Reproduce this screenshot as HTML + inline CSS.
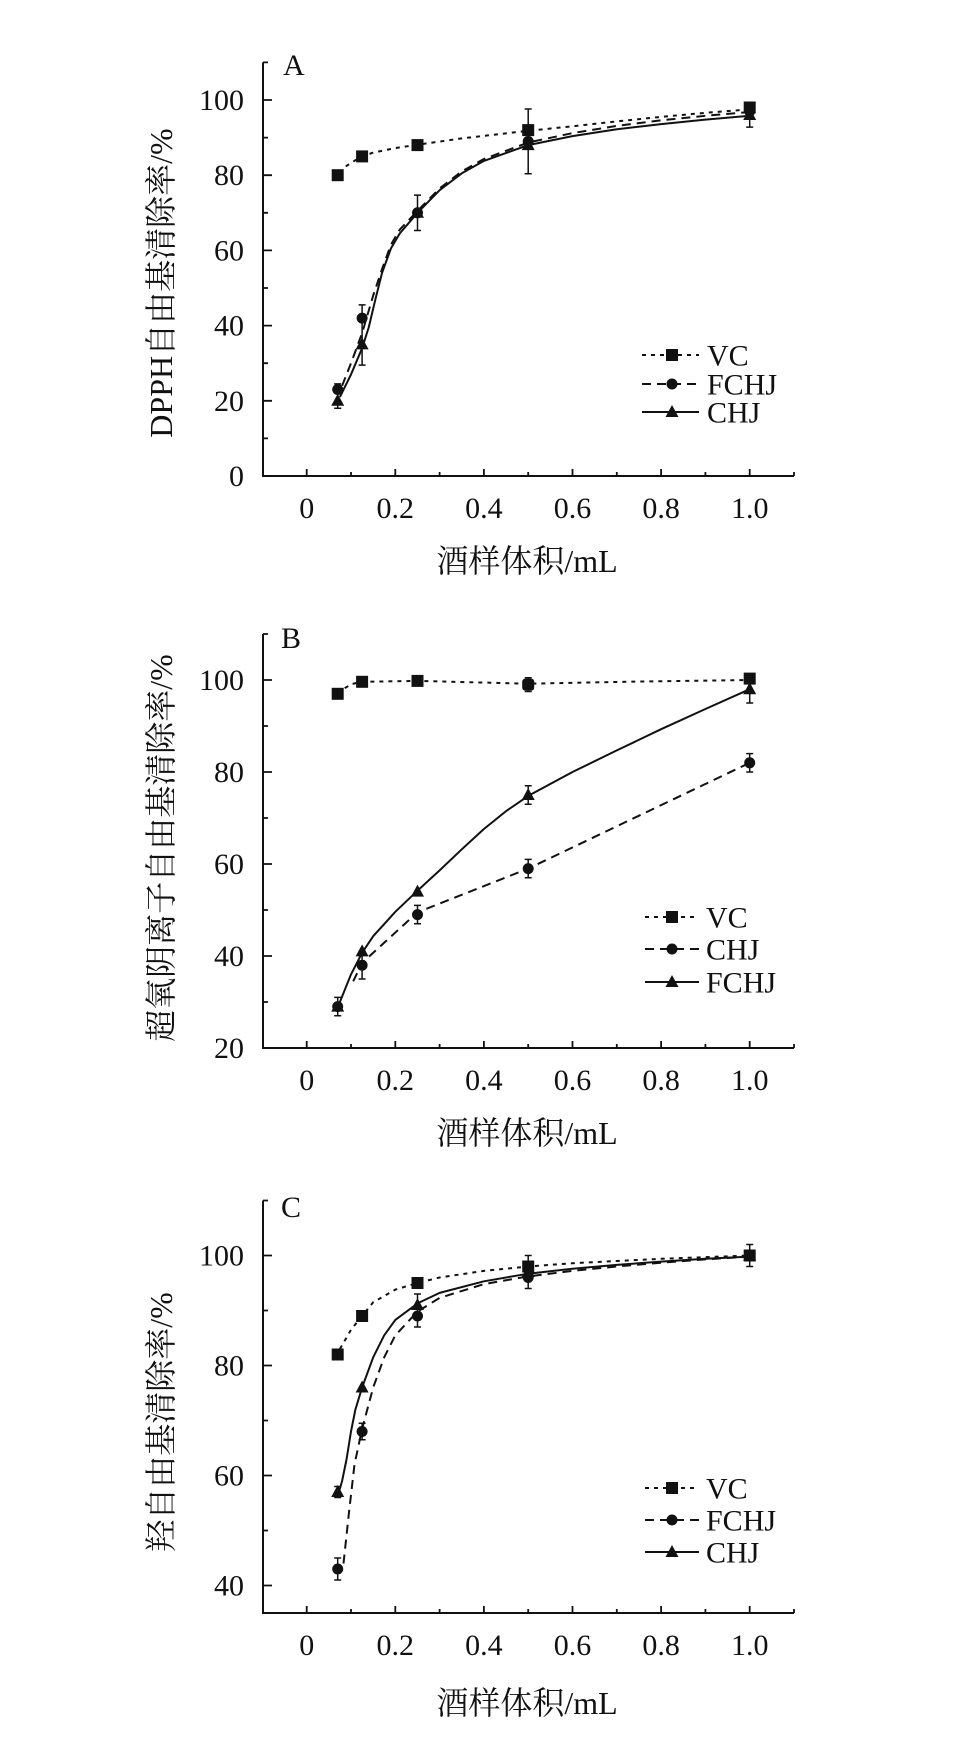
<!DOCTYPE html>
<html><head><meta charset="utf-8"><style>
html,body{margin:0;padding:0;background:#fff;}
svg{display:block;}
text{font-family:"Liberation Serif","Noto Serif CJK SC",serif;fill:#111;}
.ax{fill:none;stroke:#111;stroke-width:2;}
.tk{fill:none;stroke:#111;stroke-width:1.8;}
.s{fill:none;stroke:#111;stroke-width:2;stroke-linejoin:round;}
.vc{stroke-dasharray:4 5;}
.fd{stroke-dasharray:9 6;}
.eb{fill:none;stroke:#111;stroke-width:1.5;}
.m{fill:#111;}
.tl{font-size:30px;}
.tt{font-size:32px;}
</style></head><body>
<svg width="973" height="1754" viewBox="0 0 973 1754" xmlns="http://www.w3.org/2000/svg">
<rect width="973" height="1754" fill="#fff"/>

<!-- ================= PANEL A ================= -->
<g>
<path class="ax" d="M263,62.4 V476 H794"/>
<path class="tk" d="M263,476h9M263,438.4h5M263,400.8h9M263,363.2h5M263,325.6h9M263,288h5M263,250.4h9M263,212.8h5M263,175.2h9M263,137.6h5M263,100h9M263,62.4h5"/>
<path class="tk" d="M306.7,476v-7M351,476v-4M395.3,476v-7M439.6,476v-4M483.9,476v-7M528.2,476v-4M572.5,476v-7M616.8,476v-4M661.1,476v-7M705.4,476v-4M749.7,476v-7M794,476v-4"/>
<g class="tl" text-anchor="end">
<text x="244" y="486">0</text><text x="244" y="410.8">20</text><text x="244" y="335.6">40</text><text x="244" y="260.4">60</text><text x="244" y="185.2">80</text><text x="244" y="110">100</text>
</g>
<g class="tl" text-anchor="middle">
<text x="306.7" y="518">0</text><text x="395.3" y="518">0.2</text><text x="483.9" y="518">0.4</text><text x="572.5" y="518">0.6</text><text x="661.1" y="518">0.8</text><text x="749.7" y="518">1.0</text>
</g>
<text class="tt" x="527" y="572" text-anchor="middle">酒样体积/mL</text>
<text class="tt" transform="translate(161,283) rotate(-90)" text-anchor="middle" dominant-baseline="central">DPPH自由基清除率/%</text>
<text class="tl" x="283" y="75">A</text>

<polyline class="s vc" points="339.9,173.3 346.6,165.8 355.4,160.2 362.1,156.4 373.2,152.6 395.3,148.1 417.5,144.7 461.8,138.4 528.2,130.8 572.5,126.3 616.8,121.4 661.1,116.9 705.4,112.8 749.7,109.4"/>
<polyline class="s fd" points="342.1,385.8 351,363.2 362.1,333.1 373.2,295.5 382,269.2 390.9,244.8 399.7,229.7 417.5,210.9 439.6,188.4 461.8,171.4 483.9,159 528.2,142.5 572.5,133.1 616.8,125.9 661.1,120.3 705.4,115.8 749.7,112"/>
<polyline class="s" points="339.9,397 351,374.5 362.1,348.2 368.7,327.5 375.4,299.3 382,273 390.9,248.5 399.7,233.5 417.5,212.8 439.6,190.2 461.8,173.3 483.9,160.9 528.2,145.1 572.5,136.1 616.8,129.3 661.1,124.1 705.4,119.6 749.7,115.8"/>

<path class="eb" d="M337.7,408.3V383.9M334.2,408.3h7M334.2,383.9h7
M362.1,365.1V304.9M358.6,365.1h7M358.6,304.9h7
M417.5,230.5V195.1M414,230.5h7M414,195.1h7
M528.2,173.7V109M524.7,173.7h7M524.7,109h7
M749.7,127.1V105.6M746.2,127.1h7M746.2,105.6h7"/>

<g class="m">
<rect x="331.7" y="169.2" width="12" height="12"/><rect x="356.1" y="150.4" width="12" height="12"/><rect x="411.5" y="139.1" width="12" height="12"/><rect x="522.2" y="124.1" width="12" height="12"/><rect x="743.7" y="101.5" width="12" height="12"/>
<circle cx="337.7" cy="389.5" r="5.5"/><circle cx="362.1" cy="318.1" r="5.5"/><circle cx="417.5" cy="212.8" r="5.5"/><circle cx="528.2" cy="141.4" r="5.5"/><circle cx="749.7" cy="111.3" r="5.5"/>
<polygon points="337.7,393.8 331.2,405.8 344.2,405.8"/><polygon points="362.1,337.4 355.6,349.4 368.6,349.4"/><polygon points="417.5,205.8 411,217.8 424,217.8"/><polygon points="528.2,138.1 521.7,150.1 534.7,150.1"/><polygon points="749.7,108 743.2,120 756.2,120"/>
</g>

<!-- legend A -->
<line class="s vc" x1="642" y1="355" x2="699" y2="355"/>
<rect class="m" x="666" y="349" width="12" height="12"/>
<line class="s fd" x1="642" y1="384" x2="699" y2="384"/>
<circle class="m" cx="672" cy="384" r="5.5"/>
<line class="s" x1="642" y1="412" x2="699" y2="412"/>
<polygon class="m" points="672,405 665.5,417 678.5,417"/>
<g class="tl"><text x="707" y="365.5">VC</text><text x="707" y="394.5">FCHJ</text><text x="707" y="422.5">CHJ</text></g>
</g>

<!-- ================= PANEL B ================= -->
<g>
<path class="ax" d="M263,634 V1048 H794"/>
<path class="tk" d="M263,1048h9M263,1002h5M263,956h9M263,910h5M263,864h9M263,818h5M263,772h9M263,726h5M263,680h9M263,634h5"/>
<path class="tk" d="M306.7,1048v-7M351,1048v-4M395.3,1048v-7M439.6,1048v-4M483.9,1048v-7M528.2,1048v-4M572.5,1048v-7M616.8,1048v-4M661.1,1048v-7M705.4,1048v-4M749.7,1048v-7M794,1048v-4"/>
<g class="tl" text-anchor="end">
<text x="244" y="1058">20</text><text x="244" y="966">40</text><text x="244" y="874">60</text><text x="244" y="782">80</text><text x="244" y="690">100</text>
</g>
<g class="tl" text-anchor="middle">
<text x="306.7" y="1090">0</text><text x="395.3" y="1090">0.2</text><text x="483.9" y="1090">0.4</text><text x="572.5" y="1090">0.6</text><text x="661.1" y="1090">0.8</text><text x="749.7" y="1090">1.0</text>
</g>
<text class="tt" x="527" y="1144" text-anchor="middle">酒样体积/mL</text>
<text class="tt" transform="translate(161,848) rotate(-90)" text-anchor="middle" dominant-baseline="central">超氧阴离子自由基清除率/%</text>
<text class="tl" x="281" y="648">B</text>

<polyline class="s vc" points="337.7,693.8 345,688 352,684 362.1,681.8 417.5,680.9 528.2,683.7 640,681.5 749.7,680"/>
<polyline class="s fd" points="353.2,981.3 362.1,962.9 417.5,912.3 528.2,868.6 749.7,762.8"/>
<polyline class="s" points="339.9,1002 351,974.4 362.1,952.8 373.2,936.2 395.3,911.8 417.5,890.7 439.6,870.4 461.8,849.3 483.9,829 506.1,811.1 528.2,795.9 572.5,772 616.8,750.4 661.1,729.2 705.4,709 749.7,689.2"/>

<path class="eb" d="M337.7,1015.8V997.4M334.2,1015.8h7M334.2,997.4h7
M362.1,979V951.4M358.6,979h7M358.6,951.4h7
M417.5,923.8V905.4M414,923.8h7M414,905.4h7
M528.2,877.8V859.4M524.7,877.8h7M524.7,859.4h7
M528.2,691.5V677.7M524.7,691.5h7M524.7,677.7h7
M528.2,804.2V785.8M524.7,804.2h7M524.7,785.8h7
M749.7,772V753.6M746.2,772h7M746.2,753.6h7
M749.7,703V675.4M746.2,703h7M746.2,675.4h7"/>

<g class="m">
<rect x="331.7" y="687.8" width="12" height="12"/><rect x="356.1" y="675.8" width="12" height="12"/><rect x="411.5" y="674.9" width="12" height="12"/><rect x="522.2" y="678.6" width="12" height="12" rx="3"/><rect x="743.7" y="672.6" width="12" height="12"/>
<circle cx="337.7" cy="1006.6" r="5.5"/><circle cx="362.1" cy="965.2" r="5.5"/><circle cx="417.5" cy="914.6" r="5.5"/><circle cx="528.2" cy="868.6" r="5.5"/><circle cx="749.7" cy="762.8" r="5.5"/>
<polygon points="337.7,999.6 331.2,1011.6 344.2,1011.6"/><polygon points="362.1,944.4 355.6,956.4 368.6,956.4"/><polygon points="417.5,884.6 411,896.6 424,896.6"/><polygon points="528.2,788 521.7,800 534.7,800"/><polygon points="749.7,682.2 743.2,694.2 756.2,694.2"/>
</g>

<!-- legend B -->
<line class="s vc" x1="645" y1="917" x2="699" y2="917"/>
<rect class="m" x="666" y="911" width="12" height="12"/>
<line class="s fd" x1="645" y1="949" x2="699" y2="949"/>
<circle class="m" cx="672" cy="949" r="5.5"/>
<line class="s" x1="645" y1="982" x2="699" y2="982"/>
<polygon class="m" points="672,975 665.5,987 678.5,987"/>
<g class="tl"><text x="706" y="927.5">VC</text><text x="706" y="959.5">CHJ</text><text x="706" y="992.5">FCHJ</text></g>
</g>

<!-- ================= PANEL C ================= -->
<g>
<path class="ax" d="M263,1200.5 V1613 H794"/>
<path class="tk" d="M263,1585.5h9M263,1530.5h5M263,1475.5h9M263,1420.5h5M263,1365.5h9M263,1310.5h5M263,1255.5h9M263,1200.5h5"/>
<path class="tk" d="M306.7,1613v-7M351,1613v-4M395.3,1613v-7M439.6,1613v-4M483.9,1613v-7M528.2,1613v-4M572.5,1613v-7M616.8,1613v-4M661.1,1613v-7M705.4,1613v-4M749.7,1613v-7M794,1613v-4"/>
<g class="tl" text-anchor="end">
<text x="244" y="1595.5">40</text><text x="244" y="1485.5">60</text><text x="244" y="1375.5">80</text><text x="244" y="1265.5">100</text>
</g>
<g class="tl" text-anchor="middle">
<text x="306.7" y="1655">0</text><text x="395.3" y="1655">0.2</text><text x="483.9" y="1655">0.4</text><text x="572.5" y="1655">0.6</text><text x="661.1" y="1655">0.8</text><text x="749.7" y="1655">1.0</text>
</g>
<text class="tt" x="527" y="1714" text-anchor="middle">酒样体积/mL</text>
<text class="tt" transform="translate(161,1422) rotate(-90)" text-anchor="middle" dominant-baseline="central">羟自由基清除率/%</text>
<text class="tl" x="281" y="1217">C</text>

<polyline class="s vc" points="339.9,1349 351,1329.8 362.1,1316 373.2,1302.3 395.3,1289.6 417.5,1283 439.6,1277.5 483.9,1270.9 528.2,1266.5 572.5,1263.2 661.1,1258.8 749.7,1255.5"/>
<polyline class="s fd" points="343.5,1563.5 348.8,1514 354.5,1464.5 362.1,1428.8 373.2,1387.5 384.2,1357.3 395.3,1335.3 417.5,1311.6 439.6,1297.9 483.9,1284.1 528.2,1276.4 572.5,1270.9 616.8,1266.5 661.1,1262.7 705.4,1259.4 749.7,1256.6"/>
<polyline class="s" points="339.5,1490 342.1,1481 346.6,1459 351,1431.5 355.4,1409.5 362.1,1387.5 373.2,1357.3 384.2,1335.3 395.3,1319.9 417.5,1303.4 439.6,1292.9 483.9,1281.3 528.2,1273.7 572.5,1268.7 616.8,1264.9 661.1,1261.6 705.4,1258.8 749.7,1256.6"/>

<path class="eb" d="M337.7,1580V1558M334.2,1580h7M334.2,1558h7
M337.7,1497.5V1486.5M334.2,1497.5h7M334.2,1486.5h7
M362.1,1439.8V1423.3M358.6,1439.8h7M358.6,1423.3h7
M417.5,1327V1294M414,1327h7M414,1294h7
M528.2,1288.5V1255.5M524.7,1288.5h7M524.7,1255.5h7
M749.7,1266.5V1244.5M746.2,1266.5h7M746.2,1244.5h7"/>

<g class="m">
<rect x="331.7" y="1348.5" width="12" height="12"/><rect x="356.1" y="1310" width="12" height="12"/><rect x="411.5" y="1277" width="12" height="12"/><rect x="522.2" y="1260.5" width="12" height="12"/><rect x="743.7" y="1249.5" width="12" height="12"/>
<circle cx="337.7" cy="1569" r="5.5"/><circle cx="362.1" cy="1431.5" r="5.5"/><circle cx="417.5" cy="1316" r="5.5"/><circle cx="528.2" cy="1277.5" r="5.5"/><circle cx="749.7" cy="1255.5" r="5.5"/>
<polygon points="337.7,1485 331.2,1497 344.2,1497"/><polygon points="362.1,1380.5 355.6,1392.5 368.6,1392.5"/><polygon points="417.5,1298 411,1310 424,1310"/><polygon points="528.2,1265 521.7,1277 534.7,1277"/><polygon points="749.7,1248.5 743.2,1260.5 756.2,1260.5"/>
</g>

<!-- legend C -->
<line class="s vc" x1="645" y1="1488" x2="699" y2="1488"/>
<rect class="m" x="666" y="1482" width="12" height="12"/>
<line class="s fd" x1="645" y1="1520" x2="699" y2="1520"/>
<circle class="m" cx="672" cy="1520" r="5.5"/>
<line class="s" x1="645" y1="1552" x2="699" y2="1552"/>
<polygon class="m" points="672,1545 665.5,1557 678.5,1557"/>
<g class="tl"><text x="706" y="1498.5">VC</text><text x="706" y="1530.5">FCHJ</text><text x="706" y="1562.5">CHJ</text></g>
</g>
</svg>
</body></html>
